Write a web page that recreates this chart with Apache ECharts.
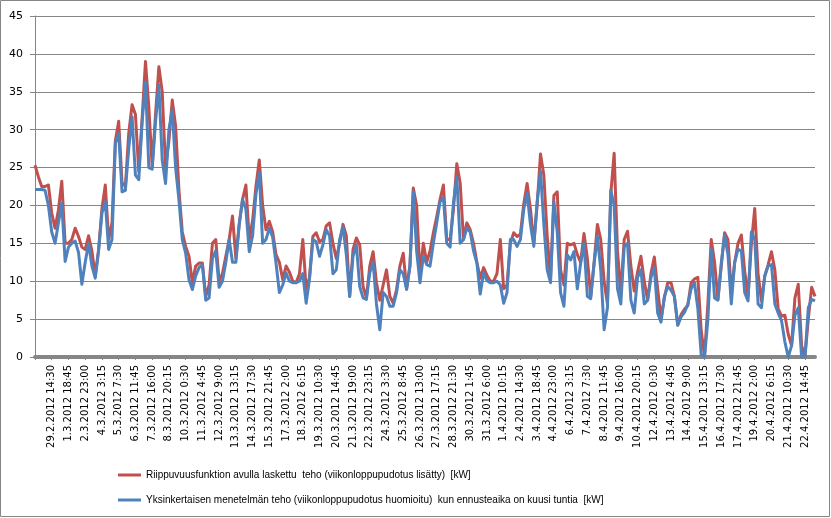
<!DOCTYPE html>
<html>
<head>
<meta charset="utf-8">
<script src="https://cdn.jsdelivr.net/npm/echarts@6/dist/echarts.min.js"></script>
<style>
html,body{margin:0;padding:0;background:#fff;}
#chart{width:831px;height:518px;}
</style>
</head>
<body>
<div id="chart"></div>
<script>
// Tick labels (one every 5 categories, starting at category 5)
const tickLabels = [
  "29.2.2012 14:30","1.3.2012 18:45","2.3.2012 23:00","4.3.2012 3:15","5.3.2012 7:30",
  "6.3.2012 11:45","7.3.2012 16:00","8.3.2012 20:15","10.3.2012 0:30","11.3.2012 4:45",
  "12.3.2012 9:00","13.3.2012 13:15","14.3.2012 17:30","15.3.2012 21:45","17.3.2012 2:00",
  "18.3.2012 6:15","19.3.2012 10:30","20.3.2012 14:45","21.3.2012 19:00","22.3.2012 23:15",
  "24.3.2012 3:30","25.3.2012 8:45","26.3.2012 13:00","27.3.2012 17:15","28.3.2012 21:30",
  "30.3.2012 1:45","31.3.2012 6:00","1.4.2012 10:15","2.4.2012 14:30","3.4.2012 18:45",
  "4.4.2012 23:00","6.4.2012 3:15","7.4.2012 7:30","8.4.2012 11:45","9.4.2012 16:00",
  "10.4.2012 20:15","12.4.2012 0:30","13.4.2012 4:45","14.4.2012 9:00","15.4.2012 13:15",
  "16.4.2012 17:30","17.4.2012 21:45","19.4.2012 2:00","20.4.2012 6:15","21.4.2012 10:30",
  "22.4.2012 14:45"
];

// Riippuvuusfunktion avulla laskettu teho (red)
const redSeries = [
  25.3,23.8,22.5,22.5,22.7,19,17.0,19.4,23.2,15.0,
  15.0,15.5,17.0,15.9,14.5,14.2,16.0,14.0,10.7,14.2,
  19.6,22.7,15.5,17.7,28.5,31.1,23,22.5,29.5,33.3,
  32,24.5,31.5,39.0,33,25.1,32,38.3,35,25,
  28.5,33.9,30.5,22,16.5,14.6,13.3,9.8,12,12.4,
  12.4,8.0,9.5,15,15.5,10,11,13.3,15.5,18.6,
  13,17.5,20.8,22.7,15.5,18,22.5,26.0,20,16.8,
  17.9,16.5,13.5,12.5,10.2,12.0,11.2,10.0,9.8,11.0,
  15.5,9.0,10.5,15.9,16.4,15.2,15.5,17.3,17.7,15,
  13,15.0,17.5,16,8.0,14.2,15.7,14.8,9.3,7.8,
  12.0,13.9,9.8,7.5,9.5,11.5,8.0,7.1,8.9,12.0,
  13.7,9.0,12,22.3,20,10.9,15,12.5,14.0,16.4,
  18.5,20.8,22.7,15.5,15.5,19.5,25.5,23,15.5,17.7,
  16.8,15,12.5,10.4,11.8,10.8,10.0,10.0,11,15.5,
  9.0,9.5,15,16.4,15.9,16.2,20.2,22.9,19.5,15,
  20,26.8,24,16,10.2,21.3,21.8,11.5,9.5,15,
  14.8,15,13.5,12.5,16.3,13,8.0,12.4,17.5,15.5,
  10,7.0,21.5,26.9,14,8.4,15.5,16.6,12.0,8.7,
  11.2,13.3,10,7.5,11,13.2,9,5.0,7.8,9.8,
  9.8,8.0,4.2,5.6,6.3,6.8,9.8,10.3,10.5,3.5,
  0.1,7,15.5,12.5,7.6,12.0,16.4,15.5,8.5,12.4,
  15,16.1,11.3,8.0,15,19.6,11,7.4,10.7,12.2,
  13.9,11.5,6.4,5.4,5.5,3.0,1.5,7.8,9.6,1.5,
  0,5,9.2,8.0
];

// Yksinkertaisen menetelmän teho (blue)
const blueSeries = [
  22.1,22.1,22.1,22.0,20.0,16.5,15.0,17.7,20.3,12.6,
  14.5,15.0,15.3,13.8,9.6,12.5,15.0,12.0,10.4,14.0,
  19.0,20.5,14.2,15.5,28.2,29.5,21.8,22.0,27.5,31.7,
  24,23.4,31,36.3,25,24.8,31,35.9,26,22.9,
  30,32.6,25,20.7,15.5,13.7,10.2,8.9,10.7,11.8,
  12.2,7.5,7.8,13,14,9.2,10.0,12.5,15.5,12.5,
  12.5,17.5,20.8,19.5,13.9,16,21.5,24.3,15,15.5,
  17.0,15.8,12.4,8.5,9.5,11.1,10.0,9.8,9.8,10.0,
  11,7.1,10.3,15.5,15.2,13.3,14.8,16.8,16,11.0,
  11.5,15.5,17.2,13.5,8.0,13.3,14.8,9.3,7.8,7.6,
  11.1,12.5,7,3.6,8.5,8.0,6.7,6.7,8.5,11.5,
  11.0,8.9,12,21.8,14,9.8,13.3,12.2,12.0,15.0,
  17.7,20.5,21,15,14.5,20.3,23.8,15,15.5,17.0,
  16.5,14,12.4,8.3,11.1,10.1,9.8,9.8,10.0,9.5,
  7.1,8.5,15.5,15.5,14.6,15.5,19.5,21.6,17.5,14.6,
  20.5,24.5,17.5,11.5,9.8,20.5,16.5,8.5,6.7,13.5,
  12.8,13.9,9.0,12.4,15,8.0,7.7,12.3,15.9,11.5,
  3.6,6.5,22.0,20,9,7.0,14.5,15.0,7.5,5.8,
  10.5,11.5,7.0,7.5,10.5,11.8,5.8,4.6,8.0,9.3,
  8.8,8.0,4.2,5.3,5.9,6.9,9.0,9.8,6.4,0.3,
  0,4.9,14.2,7.8,7.5,12.4,16.1,13.5,7,12.5,
  14.2,14,8.5,7.4,16.5,15.5,7,6.5,10.7,12.0,
  12.2,7.0,5.8,4.8,2.0,0,1.5,5.5,6.5,0,
  0,6.5,7.6,7.4
];

const seriesNames = [
  "Riippuvuusfunktion avulla laskettu  teho (viikonloppupudotus lisätty)  [kW]",
  "Yksinkertaisen menetelmän teho (viikonloppupudotus huomioitu)  kun ennusteaika on kuusi tuntia  [kW]"
];

const categories = redSeries.map((_, i) => String(i));

const chart = echarts.init(document.getElementById('chart'), null, {renderer: 'canvas'});
const gridColor = '#868686';

chart.setOption({
  animation: false,
  backgroundColor: '#ffffff',
  grid: {left: 35, right: 16, top: 16, bottom: 161, containLabel: false},
  graphic: [{
    type: 'rect',
    shape: {x: 0.5, y: 0.5, width: 829, height: 516},
    style: {fill: 'none', stroke: '#868686', lineWidth: 1},
    silent: true
  }],
  legend: {
    orient: 'vertical',
    left: 113,
    top: 465,
    itemWidth: 23,
    itemHeight: 3,
    itemGap: 15,
    icon: 'rect',
    textStyle: {fontFamily: '"Liberation Sans", sans-serif', fontSize: 10, color: '#000'},
    data: seriesNames
  },
  xAxis: {
    type: 'category',
    data: categories,
    boundaryGap: false,
    axisLine: {show: true, lineStyle: {color: gridColor, width: 4}},
    axisTick: {show: true, interval: 4, length: 3, lineStyle: {color: gridColor}},
    axisLabel: {
      interval: 4,
      rotate: 90,
      margin: 8,
      fontFamily: 'DejaVu Sans',
      fontSize: 10,
      color: '#000',
      formatter: function (value) {
        const i = Number(value);
        if (i % 5 !== 0 || i === 0) return '';
        return tickLabels[i / 5 - 1] || '';
      }
    },
    splitLine: {show: false}
  },
  yAxis: {
    type: 'value',
    min: 0,
    max: 45,
    interval: 5,
    axisLine: {show: true, lineStyle: {color: gridColor, width: 1}},
    axisTick: {show: true, length: 5, lineStyle: {color: gridColor}},
    axisLabel: {fontFamily: 'DejaVu Sans', fontSize: 11, color: '#000', margin: 12},
    splitLine: {show: true, lineStyle: {color: gridColor, width: 1}}
  },
  series: [
    {
      name: seriesNames[0],
      type: 'line',
      data: redSeries,
      showSymbol: false,
      symbol: 'none',
      lineStyle: {color: '#C0504D', width: 3, join: 'round'},
      itemStyle: {color: '#C0504D'}
    },
    {
      name: seriesNames[1],
      type: 'line',
      data: blueSeries,
      showSymbol: false,
      symbol: 'none',
      lineStyle: {color: '#4F81BD', width: 3, join: 'round'},
      itemStyle: {color: '#4F81BD'}
    }
  ]
});
</script>
</body>
</html>
